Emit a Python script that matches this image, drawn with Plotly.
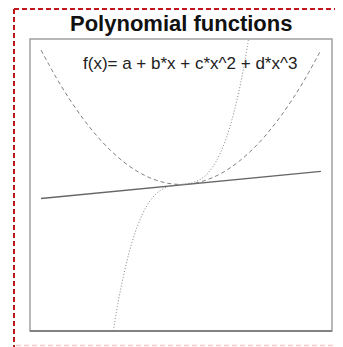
import plotly.graph_objects as go

# Curve samples (x, y in plot units)
lin_x = [-1.0, 1.0]
lin_y = [-0.104, 0.097]

quad_x = [-1.0, -0.9, -0.8, -0.7, -0.6, -0.5, -0.4, -0.3, -0.2, -0.1, 0.0,
          0.1, 0.2, 0.3, 0.4, 0.5, 0.6, 0.7, 0.8, 0.9, 1.0]
quad_y = [1.0, 0.81, 0.64, 0.49, 0.36, 0.25, 0.16, 0.09, 0.04, 0.01, 0.0,
          0.01, 0.04, 0.09, 0.16, 0.25, 0.36, 0.49, 0.64, 0.81, 1.0]

cub_x = [-0.50, -0.45, -0.40, -0.35, -0.30, -0.25, -0.20, -0.15, -0.10, -0.05, 0.0,
         0.05, 0.10, 0.15, 0.20, 0.25, 0.30, 0.35, 0.40, 0.45, 0.50]
cub_y = [-1.20, -0.88, -0.63, -0.43, -0.28, -0.17, -0.094, -0.046, -0.019, -0.006, 0.0,
         0.006, 0.019, 0.046, 0.094, 0.17, 0.28, 0.43, 0.63, 0.88, 1.20]

title_text = "Polynomial functions"
formula_text = "f(x)= a + b*x + c*x^2 + d*x^3"

fig = go.Figure()
fig.add_trace(go.Scatter(x=lin_x, y=lin_y, mode="lines",
                         line=dict(color="#666666", width=1.4)))
fig.add_trace(go.Scatter(x=quad_x, y=quad_y, mode="lines", line_shape="spline",
                         line=dict(color="#808080", width=1, dash="4px,3px")))
fig.add_trace(go.Scatter(x=cub_x, y=cub_y, mode="lines", line_shape="spline",
                         line=dict(color="#808080", width=1, dash="1px,2px")))

OFF = 8  # page body offset
W, H = 343, 347
L, T = 30 - OFF, 39 - OFF
R, B = W - (332 - OFF), H - (331 - OFF)
pw, ph = W - L - R, H - T - B

def px(xp):
    return (xp - OFF - L) / pw

def py(yp):
    return (H - B - (yp - OFF)) / ph

shapes = [
    dict(type="rect", xref="paper", yref="paper", x0=0, x1=1, y0=0, y1=1,
         line=dict(color="#a0a0a0", width=1.5)),
    dict(type="line", xref="paper", yref="paper", x0=0, x1=1, y0=0, y1=0,
         line=dict(color="#707070", width=1.5)),
    dict(type="line", xref="paper", yref="paper", x0=px(14), x1=px(14), y0=py(9), y1=py(360),
         line=dict(color="#c0161c", width=2, dash="5px,3px")),
    dict(type="line", xref="paper", yref="paper", x0=px(14), x1=px(360), y0=py(9), y1=py(9),
         line=dict(color="#c0161c", width=2, dash="5px,3px")),
    dict(type="line", xref="paper", yref="paper", x0=px(16), x1=px(360), y0=py(345.5), y1=py(345.5),
         line=dict(color="#f8c8c8", width=1.5, dash="5px,3px")),
]

fig.update_layout(
    width=W, height=H,
    margin=dict(l=L, r=R, t=T, b=B),
    paper_bgcolor="white", plot_bgcolor="white",
    showlegend=False,
    xaxis=dict(range=[-1.079, 1.079], visible=False, fixedrange=True),
    yaxis=dict(range=[-1.09, 1.082], visible=False, fixedrange=True),
    shapes=shapes,
    annotations=[
        dict(text="<b>" + title_text + "</b>", xref="paper", yref="paper",
             x=px(181), y=py(24), xanchor="center", yanchor="middle", showarrow=False,
             font=dict(family="Liberation Sans, Arial", size=22, color="#111111")),
        dict(text=formula_text, xref="paper", yref="paper",
             x=px(189.5), y=py(63), xanchor="center", yanchor="middle", showarrow=False,
             font=dict(family="Liberation Sans, Arial", size=17, color="#222222")),
    ],
)

fig.write_html("out.html")
